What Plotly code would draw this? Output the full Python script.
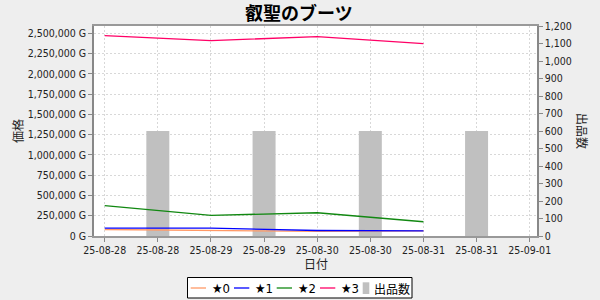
import plotly.graph_objects as go

# ---- data ----
line_dates = ["2025-08-28", "2025-08-29", "2025-08-30", "2025-08-31"]
series_names = ["★0", "★1", "★2", "★3"]
star0 = [80000, 68000, 56000, 64000]
star1 = [96000, 96000, 68000, 64000]
star2 = [374000, 254000, 287000, 176000]
star3 = [2472000, 2410000, 2459000, 2372000]
series_values = [star0, star1, star2, star3]
series_colors = ["#FF9966", "#0000FF", "#118811", "#FF0066"]

bar_dates = ["2025-08-28 12:00", "2025-08-29 12:00", "2025-08-30 12:00", "2025-08-31 12:00"]
bar_counts = [600, 600, 600, 600]
bar_name = "出品数"
bar_color = "#C0C0C0"

price_ticks = list(range(0, 2500001, 250000))
price_ticktext = [f"{v:,} G" for v in price_ticks]
count_ticks = list(range(0, 1201, 100))
count_ticktext = [f"{v:,}" for v in count_ticks]

title = "叡聖のブーツ"
xtitle = "日付"
ytitle_left = "価格"
ytitle_right = "出品数"

# ---- layout geometry (pixels) ----
W, H = 600, 300
L, R, T, B = 94, 63, 26, 64
PW = W - L - R
PH = H - T - B

def px(x):
    return (x - L) / PW

def py(y):
    return (H - B - y) / PH

FONT = "DejaVu Sans Condensed, Liberation Sans, DejaVu Sans"
CJK = "Noto Sans CJK JP"
GRID = dict(showgrid=True, gridcolor="#D8D8D8", griddash="2px,2px", gridwidth=1)

fig = go.Figure()

fig.add_trace(go.Bar(
    x=bar_dates, y=bar_counts, name=bar_name, marker_color=bar_color,
    marker_line_width=0, width=18.7e6, yaxis="y", showlegend=False,
))

for name, vals, col in zip(series_names, series_values, series_colors):
    fig.add_trace(go.Scatter(
        x=line_dates, y=vals, name=name, mode="lines",
        line=dict(color=col, width=1.3), yaxis="y2", showlegend=False,
    ))

fig.update_layout(
    width=W, height=H,
    margin=dict(l=L, r=R, t=T, b=B, pad=0),
    paper_bgcolor="#EEEEEE", plot_bgcolor="#FFFFFF",
    showlegend=False,
    font=dict(family=FONT, size=10, color="#333333"),
    xaxis=dict(
        type="date",
        range=["2025-08-27 21:35", "2025-09-01 01:39"],
        tick0="2025-08-28", dtick=43200000, tickformat="%y-%m-%d",
        ticks="outside", ticklen=4, tickcolor="#888888",
        showline=True, mirror=True, linecolor="#999999", linewidth=1.5,
        zeroline=False, tickfont=dict(family=FONT, size=10.5, color="#222222"),
        **GRID,
    ),
    yaxis=dict(
        side="right", range=[0, 1200],
        tickvals=count_ticks, ticktext=count_ticktext,
        ticks="outside", ticklen=4, tickcolor="#888888",
        showline=True, linecolor="#888888", linewidth=1.5,
        showgrid=False, zeroline=False,
        tickfont=dict(family=FONT, size=10.5, color="#222222"),
    ),
    yaxis2=dict(
        side="left", overlaying="y", range=[0, 2590000],
        tickvals=price_ticks, ticktext=price_ticktext,
        ticks="outside", ticklen=4, tickcolor="#888888",
        showline=True, linecolor="#888888", linewidth=1.5,
        zeroline=False,
        tickfont=dict(family=FONT, size=10.5, color="#222222"),
        **GRID,
    ),
)

ann = []
ann.append(dict(text=f"<b>{title}</b>", x=px(299), y=py(12), xref="paper", yref="paper",
                showarrow=False, xanchor="center", yanchor="middle",
                font=dict(family=CJK, size=18, color="#000000")))
ann.append(dict(text=xtitle, x=px(316), y=py(263), xref="paper", yref="paper",
                showarrow=False, xanchor="center", yanchor="middle",
                font=dict(family=CJK, size=12, color="#222222")))
ann.append(dict(text=ytitle_left, x=px(17), y=py(131), xref="paper", yref="paper",
                showarrow=False, xanchor="center", yanchor="middle", textangle=-90,
                font=dict(family=CJK, size=12, color="#222222")))
ann.append(dict(text=ytitle_right, x=px(583), y=py(131), xref="paper", yref="paper",
                showarrow=False, xanchor="center", yanchor="middle", textangle=90,
                font=dict(family=CJK, size=12, color="#222222")))

shapes = []
# legend box
shapes.append(dict(type="rect", xref="paper", yref="paper",
                   x0=px(187.5), x1=px(412), y0=py(298), y1=py(277.5),
                   line=dict(color="#000000", width=1), fillcolor="#FFFFFF", layer="above"))
ly = 288
starts = [190.7, 234, 276.7, 320]
for x0, name, col in zip(starts, series_names, series_colors):
    shapes.append(dict(type="line", xref="paper", yref="paper",
                       x0=px(x0), x1=px(x0 + 15.3), y0=py(ly), y1=py(ly),
                       line=dict(color=col, width=1.3), layer="above"))
    ann.append(dict(text=name, x=px(x0 + 19), y=py(ly), xref="paper", yref="paper",
                    showarrow=False, xanchor="left", yanchor="middle",
                    font=dict(family=FONT + ", " + CJK, size=13, color="#000000")))
shapes.append(dict(type="rect", xref="paper", yref="paper",
                   x0=px(362.7), x1=px(369.3), y0=py(294), y1=py(282.3),
                   line=dict(width=0), fillcolor=bar_color, layer="above"))
ann.append(dict(text=bar_name, x=px(372), y=py(ly), xref="paper", yref="paper",
                showarrow=False, xanchor="left", yanchor="middle",
                font=dict(family=CJK, size=12, color="#000000")))

fig.update_layout(annotations=ann, shapes=shapes)
fig.write_html("out.html")
